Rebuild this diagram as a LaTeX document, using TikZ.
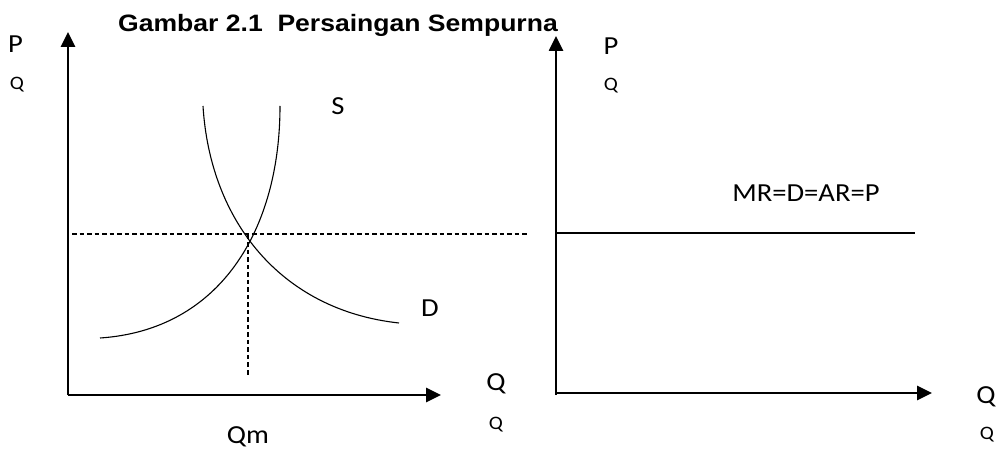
\documentclass[tikz,border=0pt]{standalone}
\usepackage{fontspec}
\setmainfont{Carlito}
\newfontfamily\titlefont{Liberation Sans}
\usetikzlibrary{arrows.meta}
\tikzset{
  axis/.style={line width=2.6pt, -{Triangle[length=15pt,width=14pt]}},
  curve/.style={line width=1.1pt},
  guide/.style={line width=1.1pt, dash pattern=on 4.5pt off 3pt},
  big/.style={anchor=base, inner sep=0pt, font=\fontsize{26}{30}\selectfont},
  small/.style={anchor=base, inner sep=0pt, font=\fontsize{19}{22}\selectfont},
}
\newcommand{\wide}[1]{\scalebox{1.1}[1]{#1}}
\begin{document}
\begin{tikzpicture}[x=1pt,y=-1pt]
\useasboundingbox (0,0) rectangle (997,449);
% title
\node[anchor=base west, inner sep=0pt, font=\titlefont\bfseries\fontsize{23.7}{28}\selectfont] (title) at (118,32) {\scalebox{1.12}[1]{Gambar 2.1\ \ Persaingan Sempurna}};
% left panel
\coordinate (O1) at (68,395);
\coordinate (Y1) at (68,32);
\coordinate (X1) at (441,395);
\coordinate (E) at (248,235);
\coordinate (Hl) at (72,234);
\coordinate (Hr) at (527,234);
\coordinate (Vb) at (248,377);
\draw[guide] (Hl) -- (Hr);
\draw[guide] (E) -- (Vb);
\draw[axis] (O1) -- (Y1);
\draw[axis] (O1) -- (X1);
% supply
\coordinate (S0) at (100,338);
\coordinate (S1) at (280,106);
\draw[curve] (S0) .. controls (220,330) and (280,230) .. (S1);
% demand
\coordinate (D0) at (203,106);
\coordinate (D1) at (399,323);
\draw[curve] (D0) .. controls (210,220) and (280,310) .. (D1);
\node[big] (pl) at (15.5,53) {\wide{P}};
\node[small] (ql) at (17,90) {\wide{Q}};
\node[big] (sl) at (338,115) {\wide{S}};
\node[big] (dl) at (430,317) {\wide{D}};
\node[big] (qx1) at (496,391) {\wide{Q}};
\node[small] (qx1s) at (496,429) {\wide{Q}};
\node[big] (qm) at (248,443) {\wide{Qm}};
% right panel
\coordinate (O2) at (556,395);
\coordinate (Y2) at (556,36);
\coordinate (O2b) at (556,393);
\coordinate (X2) at (932,393);
\coordinate (Ml) at (556,233);
\coordinate (Mr) at (915,233);
\draw[curve] (Ml) -- (Mr);
\draw[axis] (O2) -- (Y2);
\draw[axis] (O2b) -- (X2);
\node[big] (pr) at (611,55) {\wide{P}};
\node[small] (qr) at (611,91) {\wide{Q}};
\node[big] (mr) at (806,202) {\wide{MR=D=AR=P}};
\node[big] (qx2) at (986,403) {\wide{Q}};
\node[small] (qx2s) at (987,439) {\wide{Q}};
\end{tikzpicture}
\end{document}
